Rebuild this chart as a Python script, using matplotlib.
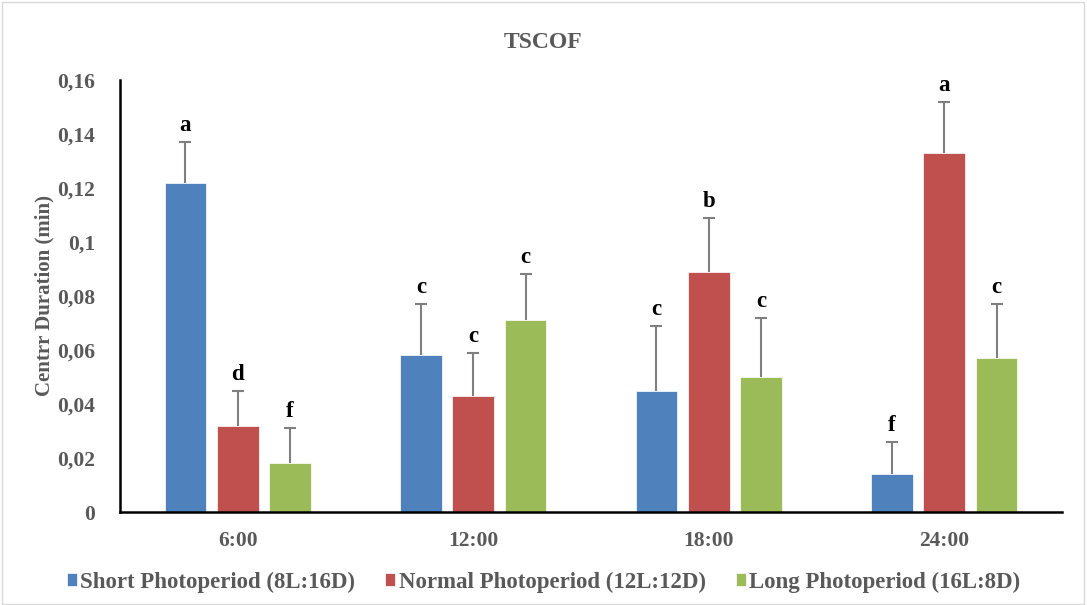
import matplotlib.pyplot as plt
import numpy as np
from matplotlib.patches import Rectangle

plt.rcParams['font.family'] = ['Liberation Serif', 'DejaVu Serif']
plt.rcParams['font.weight'] = 'bold'

times = ['6:00', '12:00', '18:00', '24:00']
series = ['Short Photoperiod (8L:16D)', 'Normal Photoperiod (12L:12D)', 'Long Photoperiod (16L:8D)']
short_vals = [0.122, 0.058, 0.045, 0.014]
normal_vals = [0.032, 0.043, 0.089, 0.133]
long_vals = [0.018, 0.071, 0.050, 0.057]
short_err = [0.015, 0.019, 0.024, 0.012]
normal_err = [0.013, 0.016, 0.020, 0.019]
long_err = [0.013, 0.017, 0.022, 0.020]
short_letters = ['a', 'c', 'c', 'f']
normal_letters = ['d', 'c', 'b', 'a']
long_letters = ['f', 'c', 'c', 'c']
colors = ['#4f81bd', '#c0504d', '#9bbb59']

grey = '#595959'

fig = plt.figure(figsize=(10.87, 6.05), dpi=100)
fig.patches.append(Rectangle((0.002, 0.002), 0.995, 0.994, transform=fig.transFigure,
                             fill=False, edgecolor='#d9d9d9', linewidth=1))
ax = fig.add_axes([120 / 1087, 1 - 512 / 605, 942 / 1087, 432 / 605])

x = np.arange(len(times))
width = 0.178
offsets = [-0.222, 0.0, 0.222]
all_vals = [short_vals, normal_vals, long_vals]
all_err = [short_err, normal_err, long_err]
all_letters = [short_letters, normal_letters, long_letters]

for i in range(3):
    pos = x + offsets[i]
    ax.bar(pos, all_vals[i], width, color=colors[i], label=series[i],
           edgecolor='white', linewidth=0.5, zorder=2)
    eb = ax.errorbar(pos, all_vals[i], yerr=[np.zeros(4), all_err[i]], fmt='none',
                     ecolor='#7f7f7f', elinewidth=1.5, capsize=4, capthick=1.5, zorder=3)
    eb[1][0].set_visible(False)  # hide the cap at the bar top
    for p, v, e, t in zip(pos, all_vals[i], all_err[i], all_letters[i]):
        ax.text(p, v + e + 0.0022, t, ha='center', va='bottom', fontsize=16.5,
                fontweight='bold', color='black')

ax.set_xlim(-0.5, 3.5)
ax.set_ylim(0, 0.16)
yt = [0, 0.02, 0.04, 0.06, 0.08, 0.1, 0.12, 0.14, 0.16]
ax.set_yticks(yt)
ax.set_yticklabels(['0', '0,02', '0,04', '0,06', '0,08', '0,1', '0,12', '0,14', '0,16'])
ax.set_xticks(x)
ax.set_xticklabels(times)
ax.tick_params(axis='both', length=0, labelsize=15.5, labelcolor=grey, pad=14)
ax.tick_params(axis='y', pad=18)
for lab in ax.get_xticklabels() + ax.get_yticklabels():
    lab.set_fontweight('bold')

for s in ['top', 'right']:
    ax.spines[s].set_visible(False)
ax.spines['left'].set_linewidth(1.8)
ax.spines['bottom'].set_linewidth(1.8)

ax.set_ylabel('Centrr Duration (min)', fontsize=15, fontweight='bold', color=grey, labelpad=2)
fig.text(0.5, 1 - 43 / 605, 'TSCOF', ha='center', va='center', fontsize=17,
         fontweight='bold', color=grey)

leg = fig.legend(loc='center', bbox_to_anchor=(0.5, 1 - 582 / 605), ncol=3, frameon=False,
                 fontsize=16.5, handlelength=0.45, handleheight=0.55, handletextpad=0.15,
                 columnspacing=1.3)
for t in leg.get_texts():
    t.set_color(grey)
    t.set_fontweight('bold')

fig.savefig('out.png', dpi=100)
